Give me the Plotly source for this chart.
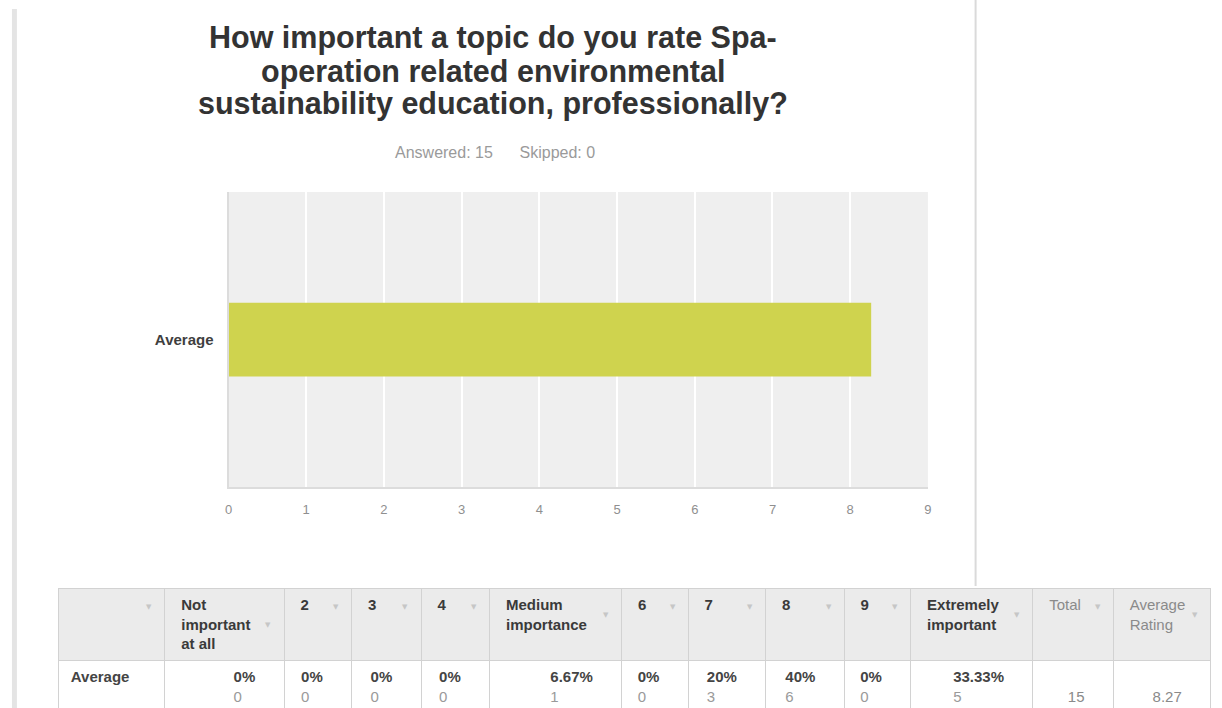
import plotly.graph_objects as go

# Survey question and response summary
question_lines = [
    "How important a topic do you rate Spa-",
    "operation related environmental",
    "sustainability education, professionally?",
]
answered = 15
skipped = 0

# Rating scale columns (header lines) and results
categories = ["Not<br>important<br>at all", "2", "3", "4", "Medium<br>importance",
              "6", "7", "8", "9", "Extremely<br>important"]
percentages = [0, 0, 0, 0, 6.67, 0, 20, 40, 0, 33.33]
counts = [0, 0, 0, 0, 1, 0, 3, 6, 0, 5]
total = 15
average_rating = 8.27

row_label = "Average"
x_ticks = [0, 1, 2, 3, 4, 5, 6, 7, 8, 9]

W, H = 1222, 708
FONT = "Arial, 'Liberation Sans', Helvetica, sans-serif"
NB = "\u00a0"


def px(x):
    return x / W


def py(y):
    return 1 - y / H


fig = go.Figure()

fig.add_trace(go.Bar(
    x=[average_rating], y=[row_label], orientation="h",
    marker=dict(color="#cfd34e", line=dict(width=0)),
    width=0.25, hoverinfo="skip", showlegend=False,
))

# Header cells
header_labels = [""] + categories + ["Total", "Average<br>Rating"]
headers = []
for i, label in enumerate(header_labels):
    lines = label.split("<br>")
    bold = 1 <= i <= len(categories)
    tag = "b" if bold else "span"
    lines = [NB * 2 + (f"<{tag}>{ln}</{tag}>" if ln else ln) for ln in lines]
    headers.append("<br>".join(lines))
header_colors = ["#3a3a3a"] * (len(categories) + 1) + ["#8a8a8a", "#8a8a8a"]

# Data row
pad = NB * 5
cells = [[NB + f"<b>{row_label}</b>"]]
for p, c in zip(percentages, counts):
    cells.append([f"<b>{p:g}%</b>{pad}<br><span style='color:#9a9a9a'>{c}</span>{pad}"])
cells.append([f"{NB}<br>{total}{pad}"])
cells.append([f"{NB}<br>{average_rating:g}{pad}"])
cell_colors = ["#444444"] * (len(categories) + 1) + ["#8a8a8a", "#8a8a8a"]

col_widths = [107, 120, 68, 70, 69, 133, 67, 78, 79, 67, 123, 81, 98]
table_left, table_right, table_top = 55, 1215, 588

fig.add_trace(go.Table(
    domain=dict(x=[px(table_left), px(table_right)], y=[0, py(table_top)]),
    columnwidth=col_widths,
    header=dict(
        values=headers,
        align="left",
        fill_color="#ebebeb",
        line=dict(color="#d2d2d2", width=1),
        font=dict(family=FONT, size=15, color=header_colors),
        height=72,
    ),
    cells=dict(
        values=cells,
        align=["left"] + ["right"] * 12,
        fill_color="white",
        line=dict(color="#d2d2d2", width=1),
        font=dict(family=FONT, size=15, color=cell_colors),
        height=46,
    ),
))

# Sort arrows at the right of each header cell
annotations = []
scale = (table_right - table_left) / sum(col_widths)
edge = table_left
arrow_y = {1: 607, 2: 615, 3: 625}
for w, label in zip(col_widths, header_labels):
    edge += w * scale
    n_lines = len(label.split("<br>"))
    annotations.append(dict(
        text="▼", x=px(edge - 16), y=py(arrow_y[n_lines]),
        xref="paper", yref="paper", xanchor="center", yanchor="middle",
        showarrow=False, font=dict(family="DejaVu Sans", size=7, color="#c6c6c6"),
    ))

# Question title, one annotation per line
for line, yc in zip(question_lines, [37, 71, 104]):
    annotations.append(dict(
        text=f"<b>{line}</b>", x=px(492), y=py(yc),
        xref="paper", yref="paper", xanchor="center", yanchor="middle",
        showarrow=False, font=dict(family=FONT, size=30.5, color="#333333"),
    ))
annotations.append(dict(
    text=f"Answered: {answered}{NB * 6}Skipped: {skipped}", x=px(494), y=py(153),
    xref="paper", yref="paper", xanchor="center", yanchor="middle",
    showarrow=False, font=dict(family=FONT, size=16, color="#9a9a9a"),
))

fig.update_layout(
    width=W, height=H,
    margin=dict(l=0, r=0, t=0, b=0),
    paper_bgcolor="white",
    plot_bgcolor="#efefef",
    font=dict(family=FONT),
    xaxis=dict(
        domain=[px(226), px(930)], range=[0, 9],
        tickvals=x_ticks, ticktext=[str(t) for t in x_ticks],
        showgrid=True, gridcolor="white", gridwidth=2,
        zeroline=False, showline=True, linecolor="#dcdcdc", linewidth=2,
        tickfont=dict(family=FONT, size=13, color="#8f8f8f"),
        ticklabelstandoff=9, fixedrange=True,
    ),
    yaxis=dict(
        domain=[py(487), py(192)],
        showgrid=False, zeroline=False,
        showline=True, linecolor="#dcdcdc", linewidth=2,
        tickfont=dict(family=FONT, size=15, color="#3f3f3f"),
        ticklabelstandoff=10,
        tickvals=[row_label], ticktext=[f"<b>{row_label}</b>"],
        fixedrange=True,
    ),
    annotations=annotations,
    shapes=[
        dict(type="rect", xref="paper", yref="paper", x0=px(8), x1=px(13), y0=0, y1=py(9),
             fillcolor="#e4e4e4", line=dict(width=0), layer="below"),
        dict(type="line", xref="paper", yref="paper", x0=px(978), x1=px(978), y0=py(586), y1=1,
             line=dict(color="#dadada", width=2), layer="below"),
    ],
)

fig.write_html("out.html")
